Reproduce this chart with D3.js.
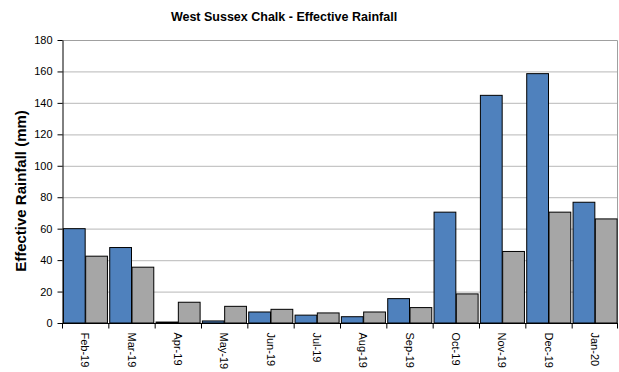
<!DOCTYPE html>
<html>
<head>
<meta charset="utf-8">
<script src="https://cdn.jsdelivr.net/npm/d3@7"></script>
<style>
  body { margin: 0; background: #fff; }
  text { font-family: Arial, "Liberation Sans", sans-serif; }
</style>
</head>
<body>
<div id="wrapper"></div>
<script>
const months = ["Feb-19", "Mar-19", "Apr-19", "May-19", "Jun-19", "Jul-19", "Aug-19", "Sep-19", "Oct-19", "Nov-19", "Dec-19", "Jan-20"]
const rainfall = [60, 48, 0.6, 1.3, 7, 5, 4, 15.5, 70.5, 144.8, 158.6, 76.8]
const average = [42.5, 35.5, 13.2, 10.6, 8.7, 6.4, 7, 9.8, 18.5, 45.5, 70.5, 66.2]
const yTicks = [0, 20, 40, 60, 80, 100, 120, 140, 160, 180]

function draw() {
    const width = 619, height = 372
    const left = 62, right = 618, top = 40, bottom = 323

    const svg = d3.select("#wrapper").append("svg")
        .attr("width", width)
        .attr("height", height)

    const x = d3.scaleBand().domain(months).range([left, right]).paddingInner(0).paddingOuter(0)
    const inner = d3.scaleBand().domain([0, 1]).range([0, x.bandwidth()]).paddingOuter(0.04).paddingInner(0)
    const y = d3.scaleLinear().domain([0, 180]).range([bottom, top])

    // gridlines
    svg.append("g")
        .selectAll("line")
        .data(yTicks.filter(d => d > 0 && d < 180))
        .enter().append("line")
        .attr("x1", left).attr("x2", right)
        .attr("y1", d => y(d) + 0.5).attr("y2", d => y(d) + 0.5)
        .style("stroke", "#c6c6c6")
        .style("stroke-width", 1.2)

    // plot border top/right
    svg.append("path")
        .attr("d", `M${left},${top + 0.5}H${right - 0.5}V${bottom}`)
        .style("fill", "none")
        .style("stroke", "#a0a0a0")
        .style("stroke-width", 1)

    const groups = svg.append("g")
        .selectAll("g")
        .data(months)
        .enter().append("g")
        .attr("transform", d => "translate(" + x(d) + ",0)")

    groups.append("rect")
        .attr("x", inner(0) + 0.5)
        .attr("width", inner.bandwidth() - 0.5)
        .attr("y", (d, i) => y(rainfall[i]))
        .attr("height", (d, i) => y(0) - y(rainfall[i]))
        .style("fill", "#4F81BD")
        .style("stroke", "#000")
        .style("stroke-width", 1)

    groups.append("rect")
        .attr("x", inner(1) + 0.5)
        .attr("width", inner.bandwidth() - 0.5)
        .attr("y", (d, i) => y(average[i]))
        .attr("height", (d, i) => y(0) - y(average[i]))
        .style("fill", "#A6A6A6")
        .style("stroke", "#000")
        .style("stroke-width", 1)

    // y axis
    const yAxis = svg.append("g")
        .attr("transform", "translate(" + (left + 0.5) + ",0)")
        .call(d3.axisLeft(y).tickValues(yTicks).tickSize(5).tickPadding(5).tickSizeOuter(0))
    yAxis.selectAll("text").style("font-size", "11px").style("fill", "#000")
        .style("font-family", "Arial, 'Liberation Sans', sans-serif")
    yAxis.selectAll("line, path").style("stroke", "#000")

    // x axis
    const xAxis = svg.append("g")
        .attr("transform", "translate(0," + (bottom + 0.5) + ")")
    xAxis.append("line")
        .attr("x1", left).attr("x2", right)
        .style("stroke", "#000")
    xAxis.selectAll(".tk")
        .data(months.concat(["end"]))
        .enter().append("line")
        .attr("x1", (d, i) => i < months.length ? x(d) + 0.5 : right - 0.5)
        .attr("x2", (d, i) => i < months.length ? x(d) + 0.5 : right - 0.5)
        .attr("y1", 0).attr("y2", 5)
        .style("stroke", "#000")
    xAxis.selectAll(".lbl")
        .data(months)
        .enter().append("text")
        .attr("transform", d => "translate(" + (x(d) + x.bandwidth() / 2 - 4) + ",9) rotate(90)")
        .attr("dy", "0")
        .style("font-size", "11px")
        .style("text-anchor", "start")
        .text(d => d)

    svg.append("text")
        .attr("x", 284)
        .attr("y", 21)
        .style("text-anchor", "middle")
        .style("font-size", "12.5px")
        .style("font-weight", "bold")
        .text("West Sussex Chalk - Effective Rainfall")

    svg.append("text")
        .attr("transform", "translate(26,191) rotate(-90)")
        .style("text-anchor", "middle")
        .style("font-size", "15px")
        .style("font-weight", "bold")
        .text("Effective Rainfall (mm)")
}
draw()
</script>
</body>
</html>
